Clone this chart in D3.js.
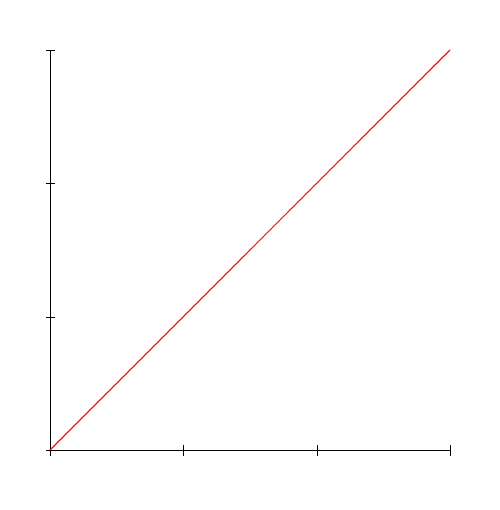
<!DOCTYPE html>
<html><head><meta charset="utf-8">
<script src="https://cdn.jsdelivr.net/npm/d3@7"></script>
<style>html,body{margin:0;padding:0;background:#fff}</style>
</head><body>
<svg id="c" width="500" height="510"></svg>
<script>
const xTicks = [0, 1, 2, 3];
const yTicks = [0, 1, 2, 3];
const lineX = [0, 3];
const lineY = [0, 3];

const svg = d3.select("#c");
const x = d3.scaleLinear().domain([0, 3]).range([50, 450]);
const y = d3.scaleLinear().domain([0, 3]).range([450, 50]);

const g = svg.append("g");
g.append("line").attr("x1", x(0)).attr("x2", x(3)).attr("y1", y(0) + 0.5).attr("y2", y(0) + 0.5)
  .attr("stroke", "#000").attr("stroke-width", 1);
g.selectAll(".xt").data(xTicks).join("line").attr("class", "xt")
  .attr("x1", d => Math.round(x(d)) + 0.5).attr("x2", d => Math.round(x(d)) + 0.5)
  .attr("y1", y(0) - 5).attr("y2", y(0) + 6).attr("stroke", "#000");
g.append("line").attr("x1", x(0) + 0.5).attr("x2", x(0) + 0.5).attr("y1", y(0)).attr("y2", y(3))
  .attr("stroke", "#000");
g.selectAll(".yt").data(yTicks).join("line").attr("class", "yt")
  .attr("y1", d => Math.round(y(d)) + 0.5).attr("y2", d => Math.round(y(d)) + 0.5)
  .attr("x1", x(0) - 4).attr("x2", x(0) + 5).attr("stroke", "#000");
const pts = lineX.map((v, i) => [v, lineY[i]]);
svg.append("path").datum(pts)
  .attr("d", d3.line().x(d => x(d[0])).y(d => y(d[1])))
  .attr("fill", "none").attr("stroke", "#ff0000").attr("stroke-width", 1.2);
</script>
</body></html>
